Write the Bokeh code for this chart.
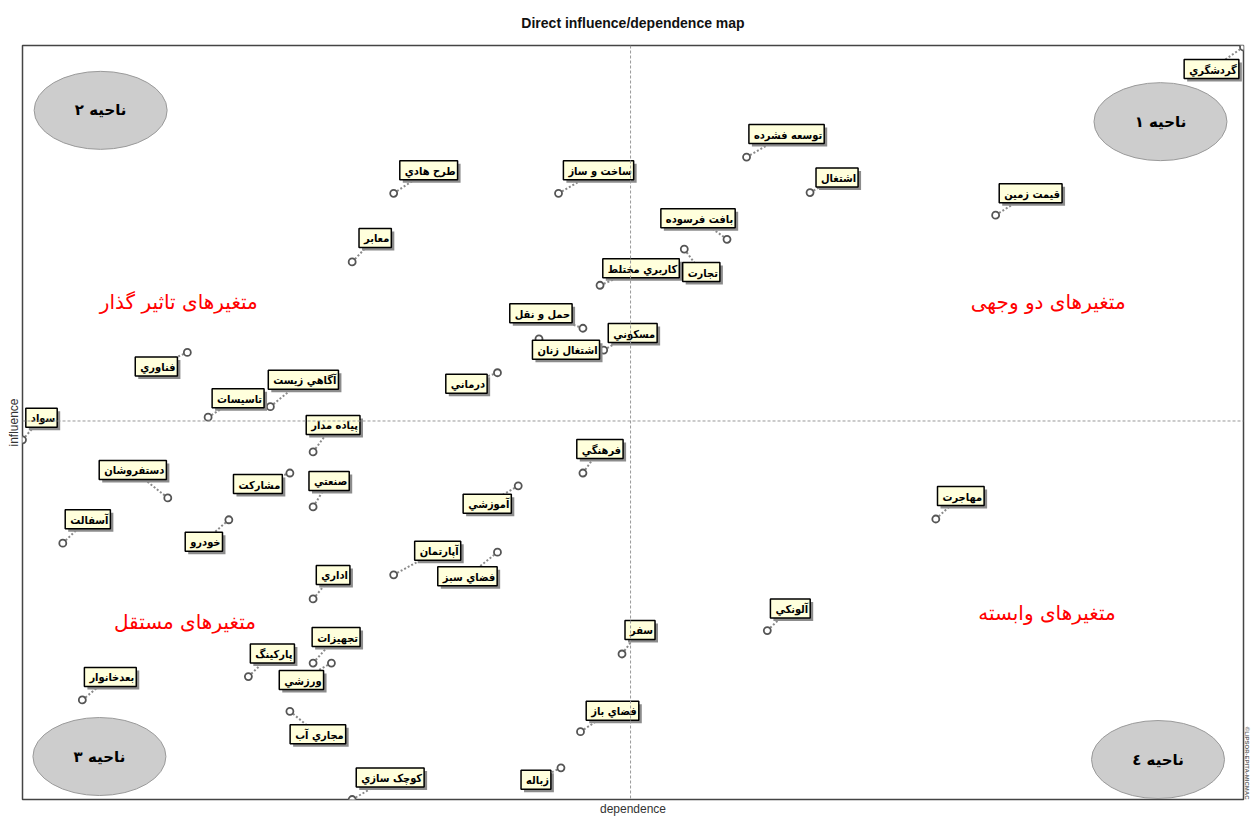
import math
from bokeh.plotting import figure
from bokeh.models import Range1d, Span, Title, ColumnDataSource, FixedTicker
from bokeh.core.properties import value
from bokeh.embed import file_html
from bokeh.resources import INLINE

# ---------------- data ----------------
variables = ["گردشگري", "توسعه فشرده", "اشتغال", "قیمت زمین", "بافت فرسوده",
             "تجارت", "ساخت و ساز", "طرح هادي", "معابر", "کاربري مختلط",
             "حمل و نقل", "اشتغال زنان", "مسکوني", "درماني", "فناوري",
             "آگاهي زیست", "تاسیسات", "سواد", "پیاده مدار", "فرهنگي",
             "دستفروشان", "مشارکت", "صنعتي", "آموزشي", "مهاجرت",
             "آسفالت", "خودرو", "آپارتمان", "فضاي سبز", "اداري",
             "آلونکي", "سفر", "تجهیزات", "پارکینگ", "ورزشي",
             "بعدخانوار", "مجاري آب", "فضاي باز", "زباله", "کوچک سازي"]
dependence = [100.0, 59.3, 64.5, 79.7, 57.7,
              54.2, 43.9, 30.4, 27.0, 47.3,
              45.9, 42.3, 47.6, 38.9, 13.5,
              20.3, 15.2, 0.0, 23.8, 45.9,
              11.9, 21.9, 23.8, 40.6, 74.8,
              3.3, 16.9, 30.4, 38.9, 23.8,
              61.0, 49.1, 23.8, 18.5, 25.3,
              4.9, 21.9, 45.7, 44.1, 27.0]
influence = [99.8, 85.2, 80.5, 77.5, 74.3,
             73.0, 80.4, 80.4, 71.3, 68.2,
             62.5, 61.1, 59.6, 56.6, 59.3,
             52.1, 50.7, 47.7, 46.1, 43.3,
             40.0, 43.3, 38.8, 41.6, 37.2,
             34.0, 37.1, 29.8, 32.8, 26.6,
             22.4, 19.3, 18.1, 16.3, 18.1,
             13.2, 11.7, 9.0, 4.2, 0.0]
dependence_mid = 49.8
influence_mid = 50.2

quadrant_names = ["ناحیه ۱", "ناحیه ۲", "ناحیه ۳", "ناحیه ٤"]
zone_names = ["متغیرهای دو وجهی", "متغیرهای تاثیر گذار", "متغیرهای مستقل", "متغیرهای وابسته"]

# ---------------- layout / style (label placement in screen px) ----------------
label_dx = [-32, 40, 27, 35, -29, 17, 40, 35, 23, 41,
            -42, 27, 29, -31, -31, 33, 30, 19, 20, 17,
            -35, -32, 16, -31, 25, 25, -25, 44, -30, 20,
            23, 18, 23, 24, -30, 28, 28, 32, -25, 38]
label_dy = [22, -23, -15, -22, -21, 23, -23, -23, -24, -17,
            -15, 11, -17, 11, 14, -27, -19, -22, -27, -24,
            -28, 11, -26, 18, -23, -24, 22, -24, 24, -24,
            -22, -24, -26, -23, 17, -23, 23, -21, 12, -22]

LABEL_FONT = "DejaVu Sans Condensed"
W, H = 1251, 818
BL, BR, BT, BB = 22, 8, 45, 18
fw = W - BL - BR
fh = H - BT - BB
sx = 100.0 / fw
sy = 100.0 / fh

p = figure(width=W, height=H, output_backend="svg", toolbar_location=None,
           x_range=Range1d(0, 100), y_range=Range1d(0, 100),
           min_border_left=BL, min_border_right=BR, min_border_top=BT, min_border_bottom=BB,
           title="Direct influence/dependence map")
p.title.align = "center"
p.title.vertical_align = "top"
p.title.text_font = "Liberation Sans"
p.title.text_font_size = "14px"
p.title.text_font_style = "bold"
p.title.text_color = "#111111"
p.title.standoff = 26

p.grid.visible = False
p.background_fill_color = "white"
p.border_fill_color = "white"
p.outline_line_color = "#444444"
p.outline_line_width = 1.5

for ax in (p.xaxis, p.yaxis):
    ax.ticker = FixedTicker(ticks=[])
    ax.major_tick_line_color = None
    ax.minor_tick_line_color = None
    ax.major_tick_out = 0
    ax.major_tick_in = 0
    ax.minor_tick_out = 0
    ax.major_label_standoff = 0
    ax.axis_line_color = None
    ax.axis_label_text_font = "Liberation Sans"
    ax.axis_label_text_font_size = "12px"
    ax.axis_label_text_font_style = "normal"
    ax.axis_label_text_color = "#333333"
    ax.axis_label_standoff = 2
p.xaxis.axis_label = "dependence"
p.yaxis.axis_label = "influence"

# watermark on the right side
p.add_layout(Title(text="©LIPSOR-EPITA-MICMAC", align="right", text_font="Liberation Sans",
                   text_font_size="6px", text_font_style="bold", text_color="#666666",
                   standoff=0, offset=0), "right")

# crosshair
p.add_layout(Span(location=dependence_mid, dimension="height", line_color="#999999",
                  line_dash="3 2", line_width=1))
p.add_layout(Span(location=influence_mid, dimension="width", line_color="#999999",
                  line_dash="3 2", line_width=1))

# quadrant ellipses
ell_x = [93.2, 6.4, 6.3, 93.0]
ell_y = [89.9, 91.4, 5.7, 5.3]
p.ellipse(x=ell_x, y=ell_y, width=133, height=78, width_units="screen", height_units="screen",
          fill_color="#cdcdcd", line_color="#9a9a9a", line_width=1)
p.text(x=ell_x, y=ell_y, text=quadrant_names, text_align="center", text_baseline="middle",
       text_font=value("DejaVu Sans"), text_font_style="bold", text_font_size="15px",
       text_color="black")

# zone labels (red)
zone_x = [84.0, 12.8, 13.3, 83.9]
zone_y = [66.0, 66.0, 23.6, 24.8]
p.text(x=zone_x, y=zone_y, text=zone_names, text_align="center", text_baseline="middle",
       text_font=value("DejaVu Sans"), text_font_size="20px", text_color="red")

src = ColumnDataSource(dict(
    x=dependence, y=influence, name=variables,
    dx=label_dx, dy=label_dy,
    lx=[d + a * sx for d, a in zip(dependence, label_dx)],
    ly=[i - b * sy for i, b in zip(influence, label_dy)],
    sdx=[a + 3 for a in label_dx], sdy=[b + 3 for b in label_dy],
))

# connectors
p.segment(x0="x", y0="y", x1="lx", y1="ly", source=src, line_color="#8a8a8a",
          line_dash="2 2", line_width=2)

# points
p.scatter(x="x", y="y", source=src, size=7, marker="circle", fill_color="white",
          line_color="#555555", line_width=1.8)

# label shadows
p.text(x="x", y="y", text="name", x_offset="sdx", y_offset="sdy", source=src,
       text_align="center", text_baseline="middle", text_font=value(LABEL_FONT),
       text_font_style="bold", text_font_size="11px", text_color="#8c8c8c",
       background_fill_color="#8c8c8c", border_line_color=None, padding=(5, 2, 4, 2))
# labels
p.text(x="x", y="y", text="name", x_offset="dx", y_offset="dy", source=src,
       text_align="center", text_baseline="middle", text_font=value(LABEL_FONT),
       text_font_style="bold", text_font_size="11px", text_color="black",
       background_fill_color="#ffffdc", border_line_color="black", border_line_width=1.5,
       padding=(5, 2, 4, 2))

open("out.html", "w").write(file_html(p, INLINE))
